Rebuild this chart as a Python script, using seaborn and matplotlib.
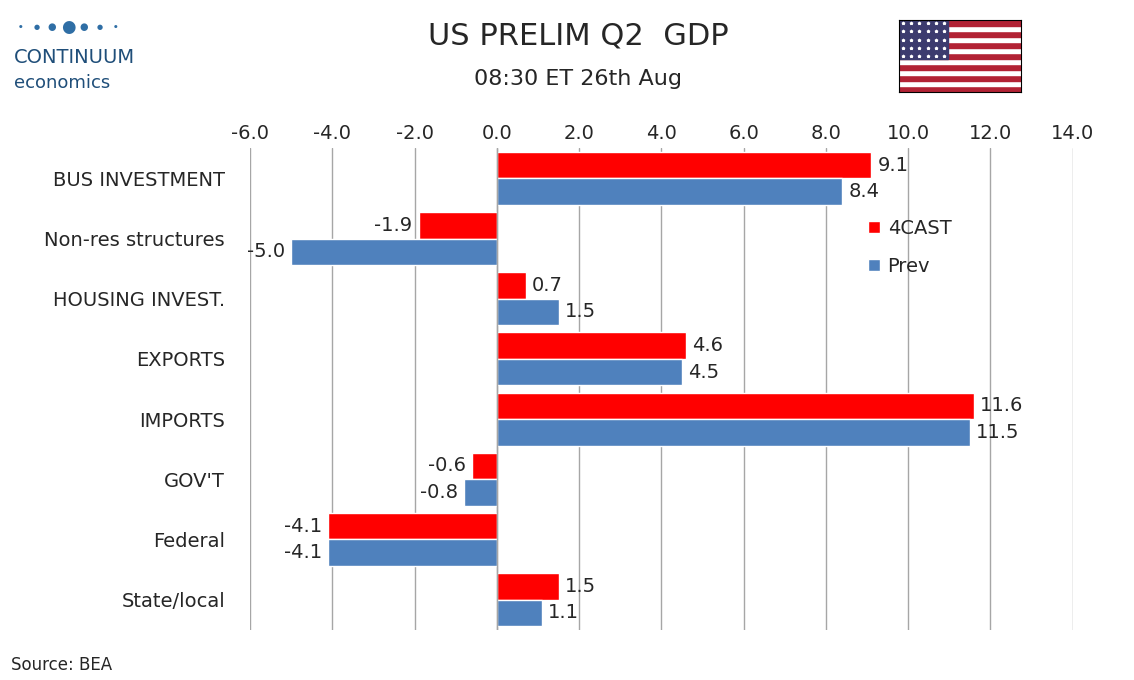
import pandas as pd
import seaborn as sns
import matplotlib.pyplot as plt
import numpy as np

categories = ['BUS INVESTMENT', 'Non-res structures', 'HOUSING INVEST.', 'EXPORTS',
              'IMPORTS', "GOV'T", 'Federal', 'State/local']
forecast = [9.1, -1.9, 0.7, 4.6, 11.6, -0.6, -4.1, 1.5]
prev = [8.4, -5.0, 1.5, 4.5, 11.5, -0.8, -4.1, 1.1]

df = pd.DataFrame({'cat': categories * 2, 'val': forecast + prev,
                   'series': ['4CAST'] * 8 + ['Prev'] * 8})

sns.set_style('white')
plt.rcParams['font.family'] = ['Verdana', 'DejaVu Sans']
fig = plt.figure(figsize=(11.34, 6.8), dpi=100)
ax = fig.add_axes([0.2205, 0.074, 0.7255, 0.708])
sns.barplot(data=df, x='val', y='cat', hue='series', orient='h',
            palette={'4CAST': '#ff0000', 'Prev': '#4f81bd'}, width=0.88,
            saturation=1, ax=ax)
ax.set_xlim(-6, 14)
ax.set_xticks(np.arange(-6, 15, 2))
ax.set_xticklabels([f'{t:.1f}' for t in np.arange(-6, 15, 2)], fontsize=14)
ax.xaxis.tick_top()
ax.tick_params(axis='y', labelsize=14, length=0, pad=18)
ax.tick_params(axis='x', length=0, pad=4)
ax.set_xlabel('')
ax.set_ylabel('')
ax.grid(axis='x', color='#a6a6a6', lw=1)
for s in ax.spines.values():
    s.set_visible(False)
ax.axvline(0, color='#a6a6a6', lw=1)

for cont in ax.containers:
    for bar in cont:
        v = bar.get_width()
        y = bar.get_y() + bar.get_height() / 2
        if v >= 0:
            ax.text(v + 0.15, y, f'{v:.1f}', va='center', ha='left', fontsize=14)
        else:
            ax.text(v - 0.15, y, f'{v:.1f}', va='center', ha='right', fontsize=14)

ax.legend(loc='upper left', bbox_to_anchor=(0.73, 0.89), frameon=False, fontsize=14,
          handlelength=0.6, handleheight=0.6, labelspacing=1.0, handletextpad=0.4)

fig.text(0.51, 0.935, 'US PRELIM Q2  GDP', ha='center', fontsize=22)
fig.text(0.51, 0.875, '08:30 ET 26th Aug', ha='center', fontsize=16)
fig.text(0.01, 0.015, 'Source: BEA', fontsize=12)

# logo
for i, s in enumerate([3, 5, 7, 12, 7, 5, 3]):
    fig.text(0.018 + i * 0.014, 0.96, '●', fontsize=s, color='#2f6ea5', ha='center', va='center')
fig.text(0.012, 0.915, 'CONTINUUM', fontsize=14, color='#1f4e79', va='center')
fig.text(0.012, 0.878, 'economics', fontsize=13, color='#1f4e79', va='center')

# flag
fa = fig.add_axes([0.793, 0.865, 0.107, 0.105])
for k in range(13):
    fa.add_patch(plt.Rectangle((0, k), 19, 1, color='#b22234' if k % 2 == 0 else 'white'))
fa.add_patch(plt.Rectangle((0, 6), 7.6, 7, color='#3c3b6e'))
xs, ys = np.meshgrid(np.linspace(0.6, 7.0, 6), np.linspace(6.5, 12.5, 5))
fa.scatter(xs.ravel(), ys.ravel(), s=3, color='white', marker='*')
fa.set_xlim(0, 19)
fa.set_ylim(0, 13)
fa.set_xticks([])
fa.set_yticks([])
for s in fa.spines.values():
    s.set_color('black')

fig.savefig('out.png', dpi=100)
